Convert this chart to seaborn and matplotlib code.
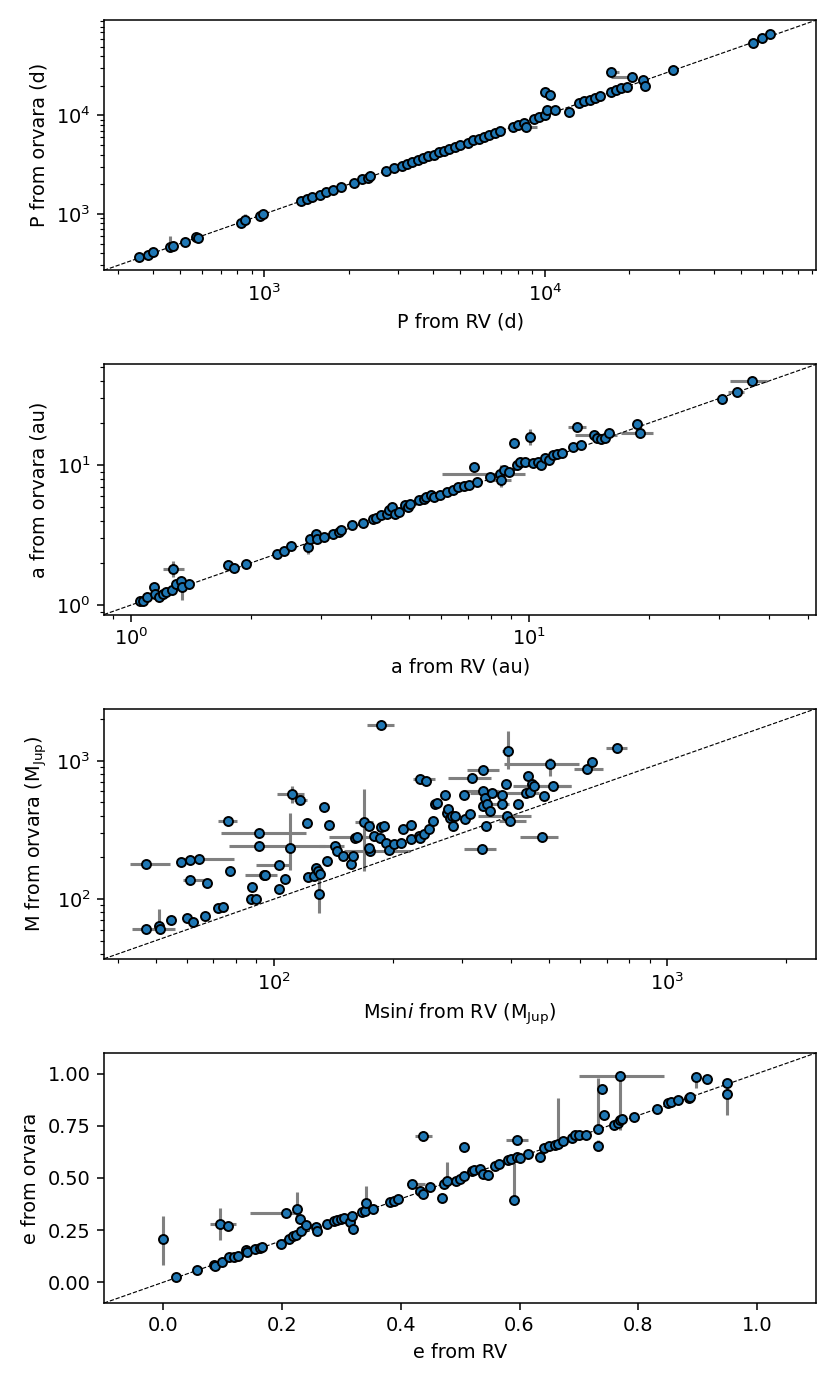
import numpy as np
import matplotlib
matplotlib.use("Agg")
import matplotlib.pyplot as plt
import seaborn as sns

# ---------------- Panel 1: period (d) ----------------
P_rv = [356, 385, 402, 461, 472, 521, 568, 581, 822, 851, 966, 986,
        1355, 1416, 1479, 1578, 1663, 1758, 1879, 2094, 2234, 2333, 2384,
        2716, 2897, 3096, 3229, 3375, 3525, 3683, 3846, 4017, 4197, 4383,
        4571, 4775, 4989, 5321, 5559, 5807, 6067, 6338, 6619, 6912,
        7709, 8054, 8414, 8590, 9165, 9575, 10000, 10220, 10910, 12160,
        10000, 10450, 13270, 13860, 14460, 15100, 15780, 17220, 17990,
        18780, 19610, 17220, 20480, 22340, 22810, 28730, 55180, 59430, 63430]
P_orv = [362, 380, 408, 466, 470, 518, 590, 572, 815, 858, 960, 995,
         1340, 1425, 1490, 1570, 1680, 1745, 1890, 2080, 2250, 2320, 2400,
         2700, 2910, 3080, 3240, 3360, 3540, 3670, 3860, 4000, 4210, 4370,
         4590, 4760, 5010, 5300, 5580, 5790, 6090, 6320, 6640, 6890,
         7690, 8080, 8390, 7610, 9140, 9600, 10030, 11240, 11240, 10810,
         17270, 16220, 13240, 13890, 14420, 15130, 15750, 17250, 17960,
         18820, 19580, 27600, 24550, 23070, 19720, 29110, 54460, 61110, 66680]
# sparse error bounds: index -> (x_lo, x_hi, y_lo, y_hi)
P_bounds = {3: (None, None, 440, 603), 9: (None, None, 840, 1000),
            47: (8300, 9380, None, None), 55: (None, None, 14200, 16800),
            66: (17220, 21000, None, None), 65: (None, 18400, None, None),
            68: (None, None, 19000, 21500)}

# ---------------- Panel 2: semi-major axis (au) ----------------
a_rv = [1.054, 1.073, 1.097, 1.142, 1.149, 1.177, 1.203, 1.229, 1.267, 1.279,
        1.299, 1.340, 1.348, 1.403, 1.757, 1.811, 1.950, 2.332, 2.419, 2.518,
        2.787, 2.822, 2.910, 2.937, 3.057, 3.221, 3.322, 3.374, 3.587, 3.816,
        4.058, 4.121, 4.250, 4.383, 4.451, 4.520, 4.591, 4.705, 4.881, 4.957,
        5.034, 5.273, 5.438, 5.521, 5.659, 5.782, 5.963, 6.207, 6.441, 6.642,
        6.850, 7.065, 7.396, 7.283, 7.989, 8.445, 8.497, 8.627, 8.897, 9.175,
        9.318, 9.461, 9.757, 10.06, 10.22, 10.54, 10.70, 10.94, 11.21, 11.48,
        11.73, 12.10, 12.87, 13.19, 13.48, 14.56, 14.78, 15.15, 15.48, 15.82,
        18.62, 18.91, 30.48, 33.12, 36.11]
a_orv = [1.062, 1.074, 1.135, 1.339, 1.199, 1.135, 1.199, 1.233, 1.288, 1.813,
         1.415, 1.495, 1.339, 1.415, 1.937, 1.843, 1.970, 2.323, 2.455, 2.666,
         2.594, 2.977, 3.233, 2.977, 3.059, 3.233, 3.323, 3.416, 3.710, 3.856,
         4.142, 4.211, 4.377, 4.499, 4.754, 5.023, 4.499, 4.625, 5.164, 5.023,
         5.308, 5.608, 5.766, 5.927, 6.094, 5.927, 6.094, 6.439, 6.689, 6.990,
         7.068, 7.265, 7.593, 9.727, 8.247, 8.713, 7.889, 9.207, 8.957, 14.30,
         10.00, 10.57, 10.57, 15.97, 10.28, 10.57, 10.00, 11.16, 10.86, 11.80,
         11.99, 12.26, 13.54, 18.84, 13.92, 16.42, 15.54, 15.28, 15.54, 17.06,
         19.70, 17.06, 29.60, 33.41, 39.63]
a_bounds = {9: (1.203, 1.360, 1.58, 2.08), 12: (None, None, 1.09, 1.36),
            14: (None, None, 1.80, 2.10), 20: (None, None, 2.32, 2.88),
            55: (6.05, 9.76, None, None), 56: (8.1, 9.0, 7.0, 10.0),
            63: (None, None, 13.9, 18.0), 73: (12.49, 13.88, None, None),
            75: (13.0, 16.6, None, None), 81: (16.98, 20.43, None, None),
            83: (31.5, 34.5, None, None), 84: (31.9, 39.6, None, None)}

# ---------------- Panel 3: mass (M_Jup) ----------------
m_rv = [47.2, 57.8, 61.1, 64.5, 76.1, 77.1, 61.0, 67.6, 47.2, 51.0,
        51.3, 54.6, 60.0, 62.1, 66.5, 72.0, 74.2, 87.7, 87.4, 89.6,
        91.6, 91.6, 93.9, 94.8, 102.9, 102.9, 106.5, 109.9, 110.9, 116.2,
        121.1, 121.8, 126.5, 127.7, 128.9, 130.5, 129.7, 133.4, 135.9, 137.6,
        142.5, 144.7, 149.3, 156.5, 158.5, 160.0, 162.5, 168.7, 174.1, 174.7,
        174.1, 179.7, 185.4, 187.2, 190.1, 191.9, 196.1, 201.1, 210.1, 212.1,
        222.3, 222.3, 232.9, 234.4, 234.4, 242.7, 240.4, 248.0, 253.6, 256.0,
        260.0, 272.5, 275.1, 276.8, 279.4, 283.8, 285.6, 287.4, 304.1, 306.0,
        313.8, 318.7, 339.4, 337.3, 339.4, 342.6, 339.4, 346.9, 344.8, 353.5,
        357.9, 378.6, 378.6, 388.2, 390.7, 396.9, 393.2, 415.9, 436.0, 443.0,
        447.1, 451.4, 457.0, 478.9, 486.5, 502.0, 510.0, 625.2, 641.1, 742.5,
        187.2]
m_orv = [180.6, 184.6, 193.1, 195.3, 366.6, 160.6, 136.7, 130.7, 60.5, 64.0,
         60.5, 70.8, 72.8, 68.1, 75.6, 85.6, 87.0, 122.3, 100.0, 100.0,
         298.2, 241.3, 150.2, 148.5, 118.2, 176.6, 140.5, 234.7, 572.6, 520.9,
         352.5, 143.7, 146.0, 168.0, 158.9, 152.8, 109.3, 466.0, 187.8, 340.9,
         241.3, 222.0, 204.2, 179.6, 204.2, 274.4, 282.1, 360.5, 337.1, 222.0,
         232.1, 285.2, 277.4, 329.8, 337.1, 255.1, 225.7, 248.1, 255.1, 322.6,
         340.9, 269.8, 285.2, 277.4, 735.8, 715.6, 293.3, 322.6, 366.6, 484.5,
         498.2, 563.1, 421.5, 445.6, 387.7, 398.6, 337.1, 398.6, 563.1, 377.0,
         409.9, 756.6, 855.6, 228.3, 605.3, 541.5, 471.2, 484.5, 337.1, 433.4,
         588.8, 563.1, 484.5, 684.4, 398.6, 366.6, 1169, 484.5, 582.2, 778.1,
         598.6, 676.8, 658.2, 282.1, 556.8, 956.3, 658.2, 869.7, 983.3, 1236,
         1826]
m_bounds = {0: (42.9, 54.3, None, None), 3: (57.8, 79.1, None, None),
            4: (72.0, 80.3, None, None), 6: (58.7, 68.7, None, None),
            8: (43.4, 51.0, None, None), 9: (None, None, 62.0, 84.5),
            10: (49.4, 56.0, None, None), 20: (73.1, 120.6, None, None),
            21: (76.6, 134.7, None, None), 22: (84.2, 101.6, None, None),
            25: (89.6, 109.9, None, None), 27: (None, None, 163.0, 421.5),
            28: (101.6, 118.8, 498.0, 658.0), 29: (112.0, 121.0, None, None),
            31: (118.0, 130.0, None, None), 36: (None, None, 79.2, 163.7),
            40: (130.0, 150.0, None, None), 46: (138.0, 178.0, None, None),
            47: (160.0, 178.0, 158.9, 622.0), 49: (150.0, 222.0, None, None),
            64: (225.8, 256.0, None, None), 81: (276.8, 355.7, None, None),
            82: (309.0, 372.0, None, None), 83: (304.0, 367.0, None, None),
            84: (304.0, 372.0, None, None), 90: (314.0, 378.0, None, None),
            92: (350.0, 395.0, None, None), 94: (330.0, 450.0, None, None),
            95: (372.0, 436.0, None, None), 96: (380.0, 405.0, 869.7, 1652),
            98: (372.0, 470.0, None, None), 102: (404.0, 569.0, None, None),
            103: (421.4, 525.4, None, None), 105: (384.6, 595.5, 778.0, 1057),
            106: (457.0, 569.0, None, None), 107: (578.0, 686.0, None, None),
            109: (696.5, 788.0, None, None), 110: (172.0, 202.0, None, None)}

# ---------------- Panel 4: eccentricity ----------------
e_rv = [0.000, 0.022, 0.056, 0.085, 0.087, 0.099, 0.096, 0.108, 0.110, 0.119,
        0.125, 0.140, 0.141, 0.155, 0.162, 0.166, 0.198, 0.207, 0.212, 0.218,
        0.223, 0.225, 0.230, 0.232, 0.241, 0.257, 0.259, 0.275, 0.288, 0.293,
        0.299, 0.304, 0.314, 0.317, 0.320, 0.335, 0.340, 0.341, 0.353, 0.382,
        0.389, 0.396, 0.419, 0.432, 0.437, 0.437, 0.450, 0.470, 0.472, 0.477,
        0.493, 0.499, 0.506, 0.506, 0.520, 0.524, 0.533, 0.538, 0.547, 0.559,
        0.565, 0.580, 0.586, 0.590, 0.595, 0.596, 0.601, 0.614, 0.634, 0.641,
        0.650, 0.659, 0.664, 0.673, 0.688, 0.694, 0.700, 0.712, 0.732, 0.733,
        0.739, 0.743, 0.759, 0.766, 0.770, 0.772, 0.770, 0.793, 0.831, 0.850,
        0.856, 0.867, 0.885, 0.887, 0.898, 0.916, 0.950, 0.950]
e_orv = [0.208, 0.024, 0.059, 0.083, 0.079, 0.099, 0.280, 0.268, 0.123, 0.119,
         0.127, 0.152, 0.147, 0.160, 0.163, 0.167, 0.184, 0.332, 0.207, 0.220,
         0.228, 0.353, 0.303, 0.244, 0.276, 0.263, 0.247, 0.280, 0.292, 0.296,
         0.304, 0.308, 0.287, 0.319, 0.255, 0.335, 0.340, 0.380, 0.351, 0.383,
         0.388, 0.399, 0.473, 0.436, 0.423, 0.700, 0.455, 0.404, 0.473, 0.484,
         0.484, 0.497, 0.508, 0.649, 0.532, 0.540, 0.543, 0.519, 0.513, 0.556,
         0.567, 0.588, 0.591, 0.396, 0.684, 0.599, 0.596, 0.617, 0.601, 0.644,
         0.652, 0.660, 0.665, 0.676, 0.692, 0.704, 0.704, 0.704, 0.652, 0.736,
         0.925, 0.804, 0.756, 0.764, 0.777, 0.784, 0.989, 0.793, 0.832, 0.861,
         0.864, 0.872, 0.885, 0.889, 0.986, 0.976, 0.957, 0.901]
e_bounds = {0: (None, None, 0.083, 0.316), 6: (0.078, 0.123, 0.204, 0.356),
            17: (0.146, 0.223, None, None), 21: (None, None, 0.292, 0.431),
            34: (None, None, 0.23, 0.27), 37: (None, None, 0.35, 0.463),
            42: (0.41, 0.44, None, None), 45: (0.424, 0.453, 0.675, 0.725),
            49: (None, None, 0.46, 0.575), 63: (None, None, 0.38, 0.572),
            64: (0.578, 0.614, None, None), 72: (None, None, 0.65, 0.885),
            78: (None, None, 0.63, 0.68), 79: (None, None, 0.72, 0.981),
            86: (0.700, 0.844, 0.732, 1.0), 94: (None, None, 0.933, 1.0),
            97: (None, None, 0.804, 0.93)}

panels = [
    (P_rv, P_orv, P_bounds, "P from RV (d)", "P from orvara (d)", True, (268, 93000)),
    (a_rv, a_orv, a_bounds, "a from RV (au)", "a from orvara (au)", True, (0.857, 52.5)),
    (m_rv, m_orv, m_bounds, r"Msin$i$ from RV (M$_{\rm Jup}$)",
     r"M from orvara (M$_{\rm Jup}$)", True, (36.9, 2390)),
    (e_rv, e_orv, e_bounds, "e from RV", "e from orvara", False, (-0.1, 1.1)),
]


def errors(vals, bounds, k):
    v = np.asarray(vals, dtype=float)
    lo = np.zeros_like(v)
    hi = np.zeros_like(v)
    for i, b in bounds.items():
        if b[k] is not None:
            lo[i] = v[i] - b[k]
        if b[k + 1] is not None:
            hi[i] = b[k + 1] - v[i]
    return np.vstack([np.clip(lo, 0, None), np.clip(hi, 0, None)])


fig, axes = plt.subplots(4, 1, figsize=(6, 10), dpi=138.4)
fig.subplots_adjust(left=0.1253, right=0.983, top=0.9855, bottom=0.0585, hspace=0.376)

for ax, (xv, yv, bnd, xl, yl, logs, lims) in zip(axes, panels):
    x = np.asarray(xv, float)
    y = np.asarray(yv, float)
    xerr = errors(x, bnd, 0)
    yerr = errors(y, bnd, 2)
    ax.errorbar(x, y, xerr=xerr, yerr=yerr, fmt="none", ecolor="gray",
                elinewidth=1.6, capsize=0, zorder=1)
    sns.scatterplot(x=x, y=y, ax=ax, color="#1f77b4", edgecolor="black",
                    linewidth=1.0, s=22, zorder=3, legend=False)
    if logs:
        ax.set_xscale("log")
        ax.set_yscale("log")
    ax.set_xlim(lims)
    ax.set_ylim(lims)
    ax.axline((lims[0], lims[0]), (lims[1], lims[1]), color="black",
              ls="--", lw=0.6, zorder=2)
    ax.set_xlabel(xl, fontsize=10)
    ax.set_ylabel(yl, fontsize=10)

axes[3].set_yticks([0.0, 0.25, 0.5, 0.75, 1.0])
axes[3].set_xticks([0.0, 0.2, 0.4, 0.6, 0.8, 1.0])

fig.savefig("out.png", dpi=138.4)
